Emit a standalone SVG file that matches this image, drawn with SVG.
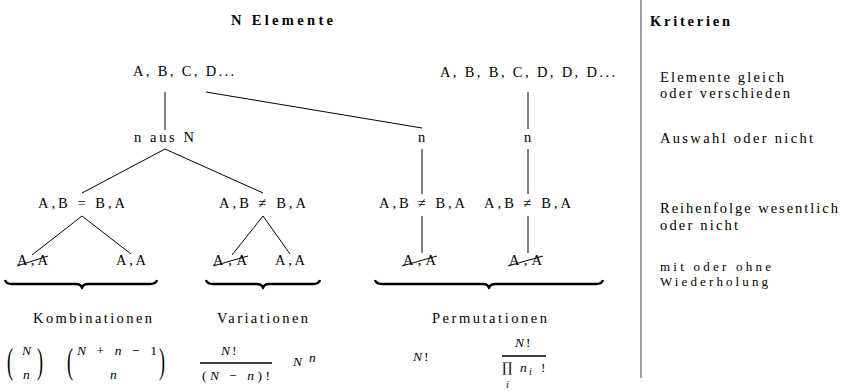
<svg xmlns="http://www.w3.org/2000/svg" width="843" height="392" viewBox="0 0 843 392">
<style>
.t{font-family:"Liberation Serif","DejaVu Serif",serif;font-size:14.5px;fill:#000}
.b{font-weight:bold}
.m{font-family:"Liberation Serif","DejaVu Serif",serif;font-size:13.5px;font-style:italic;fill:#000}
.u{font-style:normal}
.s{font-size:10px}
.l{stroke:#000;stroke-width:1;fill:none}
.br{stroke:#000;stroke-width:2.4;fill:none;stroke-linejoin:round}
.fr{stroke:#000;stroke-width:1.6}
.par{font-family:"Liberation Serif","DejaVu Serif",serif;font-size:36px;fill:#000}
</style>
<rect width="843" height="392" fill="#fff"/>

<g id="connectors">
  <line class="l" x1="165" y1="92" x2="165" y2="130"/>
  <line class="l" x1="206" y1="92" x2="422" y2="128"/>
  <line class="l" x1="528" y1="92" x2="528" y2="129"/>
  <line class="l" x1="165" y1="149" x2="82" y2="193"/>
  <line class="l" x1="165" y1="149" x2="263" y2="193"/>
  <line class="l" x1="422" y1="149" x2="422" y2="194"/>
  <line class="l" x1="528" y1="149" x2="528" y2="194"/>
  <line class="l" x1="82" y1="216" x2="32" y2="255"/>
  <line class="l" x1="82" y1="216" x2="131" y2="254"/>
  <line class="l" x1="263" y1="216" x2="232" y2="255"/>
  <line class="l" x1="263" y1="216" x2="290" y2="254"/>
  <line class="l" x1="422" y1="216" x2="422" y2="253"/>
  <line class="l" x1="528" y1="216" x2="528" y2="253"/>
</g>

<g id="title">
  <text class="t b" x="231" y="25" textLength="102" lengthAdjust="spacing">N Elemente</text>
</g>

<g id="root1"><text class="t" x="133" y="76" textLength="101" lengthAdjust="spacing">A, B, C, D...</text></g>
<g id="root2"><text class="t" x="440" y="77" textLength="175" lengthAdjust="spacing">A, B, B, C, D, D, D...</text></g>

<g id="naus"><text class="t" x="134" y="142" textLength="60" lengthAdjust="spacing">n aus N</text></g>
<g id="n1"><text class="t" x="418" y="142">n</text></g>
<g id="n2"><text class="t" x="524" y="142">n</text></g>

<g id="komb-eq"><text class="t" x="38" y="208" textLength="87" lengthAdjust="spacing">A,B = B,A</text></g>
<g id="var-neq"><text class="t" x="219" y="208" textLength="87" lengthAdjust="spacing">A,B ≠ B,A</text></g>
<g id="perm-neq1"><text class="t" x="379" y="208" textLength="86" lengthAdjust="spacing">A,B ≠ B,A</text></g>
<g id="perm-neq2"><text class="t" x="484" y="208" textLength="87" lengthAdjust="spacing">A,B ≠ B,A</text></g>

<g id="leaf1"><text class="t" x="17" y="265" textLength="31" lengthAdjust="spacing">A,A</text><line class="l" x1="17" y1="266" x2="48" y2="256"/></g>
<g id="leaf2"><text class="t" x="116" y="265" textLength="30" lengthAdjust="spacing">A,A</text></g>
<g id="leaf3"><text class="t" x="213" y="265" textLength="34" lengthAdjust="spacing">A,A</text><line class="l" x1="213" y1="266" x2="248" y2="256"/></g>
<g id="leaf4"><text class="t" x="275" y="265" textLength="30" lengthAdjust="spacing">A,A</text></g>
<g id="leaf5"><text class="t" x="403" y="265" textLength="33" lengthAdjust="spacing">A,A</text><line class="l" x1="402" y1="266" x2="437" y2="256"/></g>
<g id="leaf6"><text class="t" x="509" y="265" textLength="33" lengthAdjust="spacing">A,A</text><line class="l" x1="508" y1="266" x2="543" y2="256"/></g>

<g id="braces">
  <path class="br" d="M5,280 Q6,284 12,284 L76,284 Q81,284 82,288 Q83,284 88,284 L150,284 Q156,284 157,280"/>
  <path class="br" d="M206,280 Q207,284 213,284 L257,284 Q262,284 263,288 Q264,284 269,284 L313,284 Q319,284 320,280"/>
  <path class="br" d="M375,280 Q376,284 382,284 L483,284 Q488,284 489,288 Q490,284 495,284 L596,284 Q602,284 603,280"/>
</g>

<g id="kombinationen"><text class="t" x="33" y="323" textLength="119" lengthAdjust="spacing">Kombinationen</text></g>
<g id="variationen"><text class="t" x="217" y="323" textLength="91" lengthAdjust="spacing">Variationen</text></g>
<g id="permutationen"><text class="t" x="432" y="323" textLength="115" lengthAdjust="spacing">Permutationen</text></g>

<g id="f-binom1">
  <text class="par" transform="translate(7,373) scale(0.5,1)">(</text>
  <text class="m" x="22" y="355">N</text>
  <text class="m" x="23" y="379">n</text>
  <text class="par" transform="translate(37,373) scale(0.5,1)">)</text>
</g>
<g id="f-binom2">
  <text class="par" transform="translate(67,373) scale(0.5,1)">(</text>
  <text class="m" x="77" y="355" textLength="80" lengthAdjust="spacing">N<tspan class="u"> + </tspan>n<tspan class="u"> − 1</tspan></text>
  <text class="m" x="110" y="379">n</text>
  <text class="par" transform="translate(159,373) scale(0.5,1)">)</text>
</g>
<g id="f-var1">
  <text class="m" x="221" y="355">N<tspan class="u" dx="2">!</tspan></text>
  <line class="fr" x1="200" y1="363" x2="272" y2="363"/>
  <text class="m" x="202" y="380" textLength="68" lengthAdjust="spacing"><tspan class="u">(</tspan>N<tspan class="u"> − </tspan>n<tspan class="u">)!</tspan></text>
</g>
<g id="f-var2">
  <text class="m" x="293" y="366">N</text>
  <text class="m" x="309" y="362" font-size="12">n</text>
</g>
<g id="f-perm1">
  <text class="m" x="413" y="361">N<tspan class="u" dx="2">!</tspan></text>
</g>
<g id="f-perm2">
  <text class="m" x="515" y="347">N<tspan class="u" dx="2">!</tspan></text>
  <line class="fr" x1="502" y1="356" x2="546" y2="356"/>
  <text x="502" y="372" font-family="DejaVu Serif, serif" font-size="13">∏</text>
  <text class="m" x="520" y="372">n</text>
  <text class="m s" x="529" y="375">i</text>
  <text class="m" x="541" y="372"><tspan class="u">!</tspan></text>
  <text class="m s" x="506" y="388">i</text>
</g>

<g id="separator">
  <line x1="641" y1="0" x2="641" y2="378" stroke="#808080" stroke-width="1.5"/>
</g>

<g id="criteria">
  <text class="t b" x="650" y="26" textLength="80" lengthAdjust="spacing">Kriterien</text>
  <text class="t" x="660" y="82" textLength="124" lengthAdjust="spacing">Elemente gleich</text>
  <text class="t" x="660" y="98" textLength="130" lengthAdjust="spacing">oder verschieden</text>
  <text class="t" x="660" y="143" textLength="153" lengthAdjust="spacing">Auswahl oder nicht</text>
  <text class="t" x="660" y="213" textLength="178" lengthAdjust="spacing">Reihenfolge wesentlich</text>
  <text class="t" x="660" y="230" textLength="78" lengthAdjust="spacing">oder nicht</text>
  <text class="t" x="660" y="271" font-size="13" style="font-size:13px" textLength="111" lengthAdjust="spacing">mit oder ohne</text>
  <text class="t" x="660" y="286" style="font-size:13px" textLength="108" lengthAdjust="spacing">Wiederholung</text>
</g>
</svg>
